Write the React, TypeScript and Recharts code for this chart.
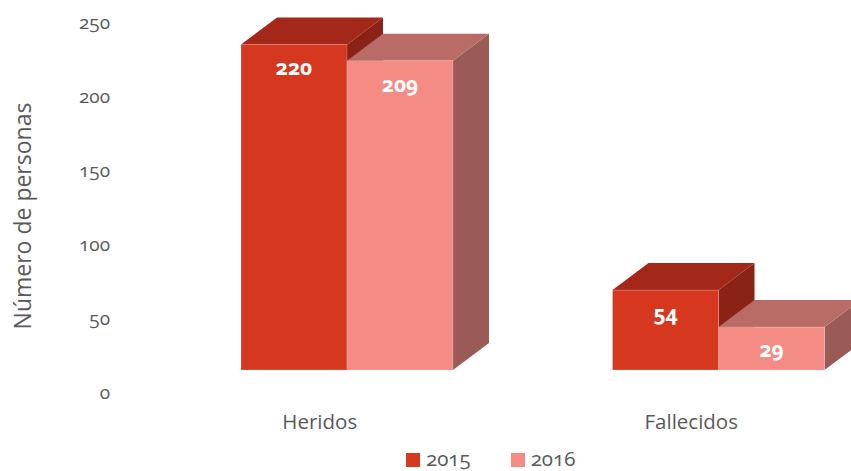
import { Bar, BarChart, LabelList, XAxis, YAxis } from "recharts";

const categories = ["Heridos", "Fallecidos"];
const years = ["2015", "2016"];
const values2015 = [220, 54];
const values2016 = [209, 29];
const yTicks = [0, 50, 100, 150, 200, 250];

// front, top, side
const pal2015 = ["#d6381f", "#a32819", "#8a2315"];
const pal2016 = ["#f48b85", "#b96c66", "#9a5a55"];

const DX = 36;
const DY = 27;
const GRAY = "#595959";
const FONT = "'Open Sans', sans-serif";

const data = categories.map((name, i) => ({
  name,
  y2015: values2015[i],
  y2016: values2016[i],
}));

function Box3D(props: any) {
  const { x, y, width: w, height: h, pal } = props;
  if (!h || h <= 0) return null;
  return (
    <g>
      <polygon
        points={`${x + w},${y} ${x + w + DX},${y - DY} ${x + w + DX},${y + h - DY} ${x + w},${y + h}`}
        fill={pal[2]}
      />
      <polygon
        points={`${x},${y} ${x + DX},${y - DY} ${x + w + DX},${y - DY} ${x + w},${y}`}
        fill={pal[1]}
      />
      <rect x={x} y={y} width={w} height={h} fill={pal[0]} stroke="rgba(255,255,255,0.2)" strokeWidth={1} />
    </g>
  );
}

function ValueLabel(props: any) {
  const { x, y, width, height, value } = props;
  return (
    <text
      x={x + width / 2}
      y={y + Math.min(23, height / 2)}
      textAnchor="middle"
      dominantBaseline="central"
      fill="#fff"
      fontWeight={700}
      fontSize={21}
      fontFamily={FONT}
      style={{ fontVariantNumeric: "oldstyle-nums" }}
    >
      {value}
    </text>
  );
}

export default function App() {
  return (
    <div style={{ position: "absolute", left: 0, top: 0, width: 851, height: 471, overflow: "hidden", background: "#fff" }}>
      <BarChart
        width={904}
        height={471}
        data={data}
        margin={{ top: 0, right: 0, bottom: 71, left: 0 }}
        barGap={0}
        barSize={106}
      >
        <XAxis
          dataKey="name"
          axisLine={false}
          tickLine={false}
          height={30}
          tick={(p: any) => (
            <text x={p.x - 27} y={421} textAnchor="middle" dominantBaseline="central" fill={GRAY} fontSize={20.5} fontFamily={FONT}>
              {p.payload.value}
            </text>
          )}
        />
        <YAxis
          width={161}
          domain={[0, 250]}
          ticks={yTicks}
          interval={0}
          axisLine={false}
          tickLine={false}
          tick={(p: any) => (
            <text
              x={110}
              y={p.payload.coordinate + 22}
              textAnchor="end"
              dominantBaseline="central"
              fill={GRAY}
              fontSize={19}
              fontFamily={FONT}
              style={{ fontVariantNumeric: "oldstyle-nums" }}
            >
              {p.payload.value}
            </text>
          )}
          label={{
            content: () => (
              <text
                transform="translate(22,216) rotate(-90)"
                textAnchor="middle"
                dominantBaseline="central"
                fill={GRAY}
                fontSize={23}
                fontFamily={FONT}
              >
                Número de personas
              </text>
            ),
          }}
        />
        <Bar dataKey="y2015" name={years[0]} isAnimationActive={false} shape={(p: any) => <Box3D {...p} pal={pal2015} />}>
          <LabelList dataKey="y2015" content={ValueLabel} />
        </Bar>
        <Bar dataKey="y2016" name={years[1]} isAnimationActive={false} shape={(p: any) => <Box3D {...p} pal={pal2016} />}>
          <LabelList dataKey="y2016" content={ValueLabel} />
        </Bar>
      </BarChart>
      <div
        style={{
          position: "absolute",
          left: 406,
          top: 448,
          display: "flex",
          alignItems: "center",
          fontFamily: FONT,
          fontSize: 20.5,
          lineHeight: "21px",
          color: GRAY,
          fontVariantNumeric: "oldstyle-nums",
        }}
      >
        {years.map((yr, i) => (
          <div key={yr} style={{ display: "flex", alignItems: "center", marginRight: 40 }}>
            <span style={{ width: 14, height: 14, background: (i === 0 ? pal2015 : pal2016)[0], marginRight: 6, marginTop: 2 }} />
            <span>{yr}</span>
          </div>
        ))}
      </div>
    </div>
  );
}
